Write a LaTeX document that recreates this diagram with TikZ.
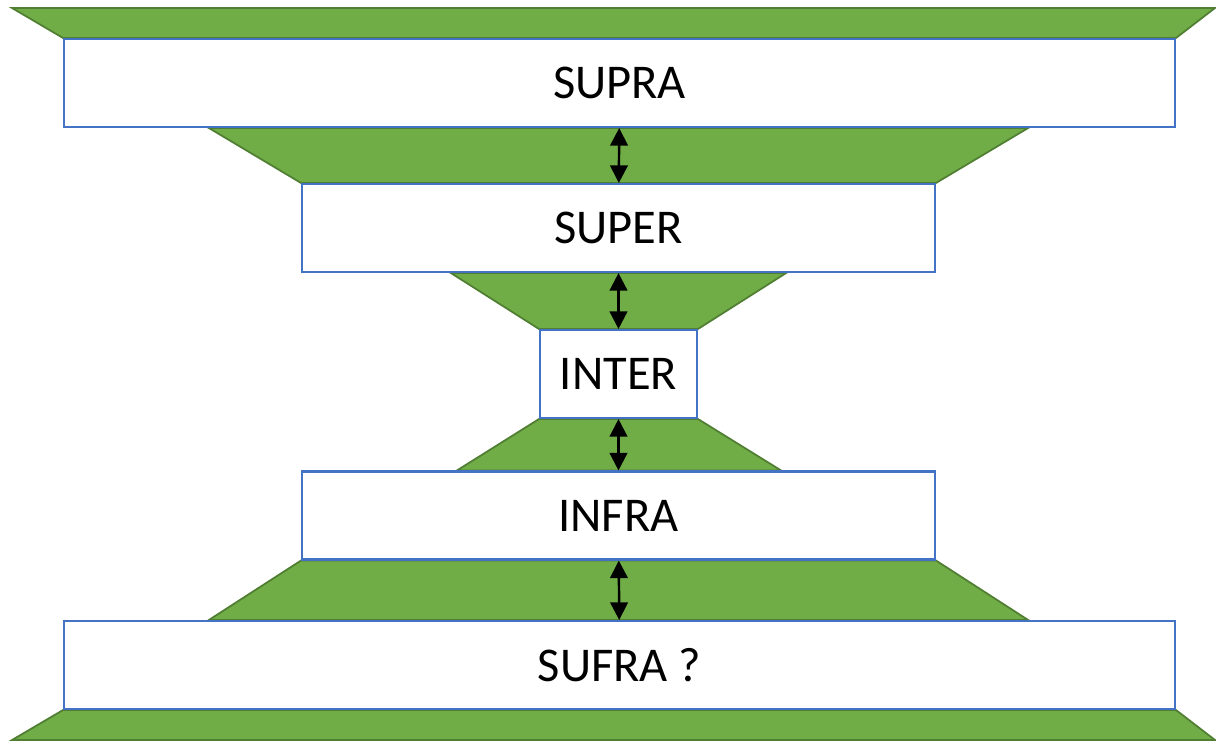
\documentclass[tikz,border=0pt]{standalone}
\usepackage{fontspec}
\setmainfont{Carlito}
\usetikzlibrary{arrows.meta,backgrounds}

\tikzset{
  level/.style={draw=blueline,fill=white,line width=0.6pt,inner sep=0pt,minimum height=0.88cm,font=\fontsize{13.8}{16}\selectfont},
  band/.style={fill=greenfill,draw=greenline,line width=0.5pt},
  link/.style={line width=0.7pt,{Triangle[width=5pt,length=5pt]}-{Triangle[width=5pt,length=5pt]}}
}
\definecolor{blueline}{HTML}{4472C4}
\definecolor{greenfill}{HTML}{70AD47}
\definecolor{greenline}{HTML}{507E32}

\begin{document}
\begin{tikzpicture}

\useasboundingbox (0,0) rectangle (12.16,7.44);

\draw (6.195,6.61) node(SUPRA)[level,minimum width=11.11cm]{SUPRA};
\draw (6.185,5.16) node(SUPER)[level,minimum width=6.33cm]{SUPER};
\draw (6.185,3.70) node(INTER)[level,minimum width=1.57cm]{INTER};
\draw (6.185,2.285) node(INFRA)[level,minimum width=6.33cm]{INFRA};
\draw (6.195,0.79) node(SUFRA)[level,minimum width=11.11cm]{SUFRA ?};

\begin{pgfonlayer}{background}
\draw[band] (0.12,7.36) -- (12.15,7.36) -- (SUPRA.north east) -- (SUPRA.north west) -- cycle;
\draw[band] ([xshift=1.46cm]SUPRA.south west) -- ([xshift=-1.48cm]SUPRA.south east) -- (SUPER.north east) -- (SUPER.north west) -- cycle;
\draw[band] ([xshift=1.50cm]SUPER.south west) -- ([xshift=-1.50cm]SUPER.south east) -- (INTER.north east) -- (INTER.north west) -- cycle;
\draw[band] (INTER.south west) -- (INTER.south east) -- ([xshift=-1.55cm]INFRA.north east) -- ([xshift=1.56cm]INFRA.north west) -- cycle;
\draw[band] (INFRA.south west) -- (INFRA.south east) -- ([xshift=-1.48cm]SUFRA.north east) -- ([xshift=1.46cm]SUFRA.north west) -- cycle;
\draw[band] (SUFRA.south west) -- (SUFRA.south east) -- (12.15,0.04) -- (0.12,0.04) -- cycle;
\end{pgfonlayer}

\draw[link] (SUPRA) -- (SUPER);
\draw[link] (SUPER) -- (INTER);
\draw[link] (INTER) -- (INFRA);
\draw[link] (INFRA) -- (SUFRA);

\end{tikzpicture}
\end{document}
